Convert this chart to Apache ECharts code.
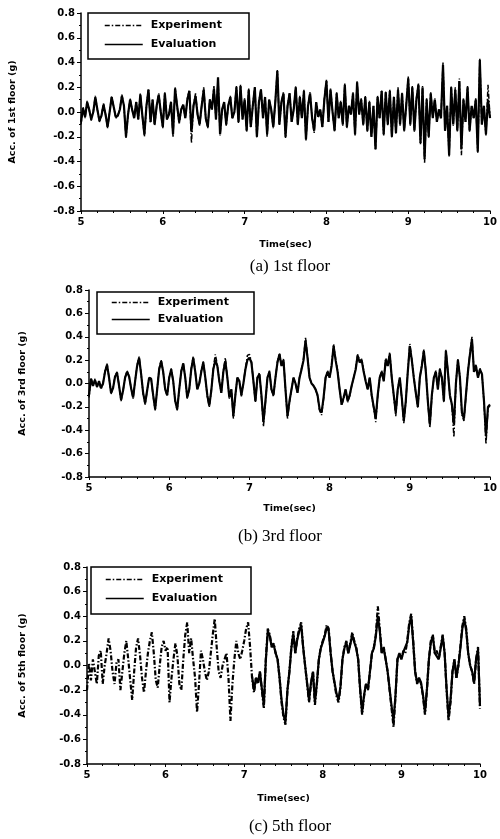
<!DOCTYPE html>
<html>
<head>
<meta charset="utf-8">
<script src="https://cdn.jsdelivr.net/npm/echarts@6/dist/echarts.min.js"></script>
<style>
html,body{margin:0;padding:0;background:#fff;}
#c{width:500px;height:839px;}
</style>
</head>
<body>
<div id="c"></div>
<script>
// ---- Data (sampled every 0.025 s from 5.0 s) ----
const startTime = 5.0;
const step = 0.025;
const xTicks = [5, 6, 7, 8, 9, 10];
const yTicks = [-0.8, -0.6, -0.4, -0.2, 0.0, 0.2, 0.4, 0.6, 0.8];
const seriesNames = ['Experiment', 'Evaluation'];
const yAxisNames = ['Acc. of 1st floor (g)', 'Acc. of 3rd floor (g)', 'Acc. of 5th floor (g)'];
const xAxisName = 'Time(sec)';
const captions = ['(a) 1st floor', '(b) 3rd floor', '(c) 5th floor'];

// 1st floor
const eval1 = [
-0.08,0.03,-0.04,0.08,0.02,-0.06,0.00,0.12,
0.02,-0.07,-0.03,0.06,-0.02,-0.12,0.00,0.12,
0.04,-0.04,-0.03,0.02,0.13,0.05,-0.20,-0.02,
0.10,0.02,-0.05,0.08,-0.06,0.14,-0.03,-0.18,
0.05,0.18,-0.08,0.10,-0.10,0.05,0.14,0.00,
-0.12,0.15,-0.06,-0.02,0.08,-0.18,0.19,0.05,
-0.08,0.02,0.06,-0.05,0.10,0.17,-0.16,0.05,
0.13,-0.02,-0.10,0.05,0.18,-0.05,-0.12,0.10,
0.02,0.19,-0.06,0.28,-0.18,0.02,0.08,-0.10,
0.05,0.12,-0.05,0.00,0.20,-0.08,0.21,-0.06,
0.10,-0.15,0.18,-0.12,0.05,0.20,-0.20,0.08,
0.18,-0.05,0.12,-0.18,0.10,0.02,-0.12,0.08,
0.33,-0.10,0.08,0.15,-0.20,0.05,0.15,-0.08,
0.02,0.20,-0.10,0.12,-0.05,0.17,-0.22,0.05,
0.15,-0.05,-0.15,0.08,-0.04,0.02,-0.12,0.10,
0.25,-0.08,0.18,0.00,-0.15,0.15,-0.05,0.08,
-0.10,0.22,-0.12,0.05,-0.02,0.15,-0.18,0.24,
-0.02,0.10,-0.10,0.12,-0.15,0.08,-0.20,0.05,
-0.30,0.12,-0.05,0.17,-0.18,0.16,-0.10,0.17,
-0.20,0.12,-0.17,0.18,-0.10,0.15,-0.15,0.05,
0.27,-0.10,0.20,-0.15,0.10,0.22,-0.25,0.20,
-0.38,0.10,-0.20,0.15,-0.05,0.10,-0.08,0.02,
-0.05,0.38,-0.15,0.05,-0.35,0.20,-0.10,0.18,
-0.15,0.25,-0.30,0.10,-0.08,0.20,-0.15,0.05,
-0.05,0.10,-0.32,0.42,-0.10,0.05,-0.18,0.10,
-0.05];
const exp1 = [
-0.10,0.04,-0.05,0.09,0.02,-0.07,0.00,0.13,
0.02,-0.08,-0.03,0.07,-0.02,-0.13,0.00,0.13,
0.04,-0.05,-0.03,0.02,0.14,0.05,-0.21,-0.02,
0.11,0.02,-0.05,0.09,-0.06,0.15,-0.03,-0.20,
0.05,0.19,-0.09,0.10,-0.11,0.05,0.15,0.00,
-0.13,0.16,-0.06,-0.02,0.09,-0.20,0.20,0.05,
-0.10,0.02,0.06,-0.05,0.11,0.18,-0.25,0.05,
0.15,-0.02,-0.11,0.05,0.20,-0.05,-0.13,0.11,
0.02,0.21,-0.06,0.27,-0.19,0.02,0.08,-0.11,
0.05,0.13,-0.05,0.00,0.21,-0.09,0.22,-0.06,
0.11,-0.16,0.19,-0.13,0.05,0.21,-0.21,0.08,
0.19,-0.05,0.13,-0.20,0.10,0.02,-0.13,0.08,
0.34,-0.11,0.08,0.16,-0.21,0.05,0.16,-0.08,
0.02,0.21,-0.11,0.13,-0.05,0.18,-0.23,0.05,
0.16,-0.05,-0.17,0.08,-0.04,0.02,-0.13,0.11,
0.26,-0.08,0.19,0.00,-0.16,0.16,-0.05,0.09,
-0.11,0.23,-0.13,0.05,-0.02,0.16,-0.19,0.25,
-0.02,0.11,-0.11,0.13,-0.16,0.09,-0.21,0.05,
-0.31,0.13,-0.05,0.18,-0.19,0.17,-0.11,0.18,
-0.21,0.13,-0.18,0.20,-0.11,0.16,-0.16,0.05,
0.29,-0.11,0.21,-0.16,0.11,0.23,-0.26,0.21,
-0.41,0.11,-0.21,0.16,-0.05,0.11,-0.08,0.02,
-0.05,0.40,-0.16,0.05,-0.36,0.21,-0.11,0.20,
-0.16,0.27,-0.35,0.11,-0.08,0.21,-0.16,0.05,
-0.05,0.11,-0.33,0.43,-0.11,0.05,-0.19,0.22,
-0.04];

// 3rd floor
const eval3 = [
-0.10,0.04,-0.02,0.03,-0.03,0.02,-0.04,0.00,
0.10,0.16,0.05,-0.08,-0.04,0.06,0.09,-0.02,
-0.14,-0.06,0.05,0.10,0.06,-0.04,-0.12,0.02,
0.15,0.22,0.08,-0.08,-0.17,-0.06,0.05,0.04,
-0.10,-0.22,-0.05,0.12,0.19,0.10,-0.05,-0.10,
0.05,0.12,0.02,-0.15,-0.22,-0.05,0.10,0.17,
0.05,-0.12,-0.05,0.12,0.22,0.10,-0.05,0.00,
0.10,0.18,0.05,-0.10,-0.19,-0.06,0.12,0.20,
0.15,0.02,-0.08,0.10,0.19,0.05,-0.12,-0.05,
-0.28,-0.10,0.05,0.02,-0.10,0.00,0.12,0.20,
0.22,0.18,0.02,-0.15,0.05,0.08,-0.10,-0.33,
-0.15,0.05,0.10,-0.05,-0.10,0.05,0.18,0.25,
0.15,0.20,-0.05,-0.28,-0.15,-0.05,0.05,0.00,
-0.08,0.05,0.12,0.20,0.37,0.22,0.05,0.00,
-0.02,-0.05,-0.10,-0.22,-0.25,-0.12,0.05,0.10,
0.05,0.15,0.32,0.20,0.10,-0.05,-0.18,-0.12,
-0.05,-0.15,-0.10,-0.02,0.05,0.12,0.24,0.18,
0.20,0.10,0.02,-0.05,0.05,-0.10,-0.20,-0.30,
-0.10,0.05,0.10,0.02,0.20,0.15,0.25,0.05,
-0.10,-0.25,-0.05,0.05,-0.12,-0.32,-0.15,0.10,
0.32,0.20,0.05,-0.08,-0.20,0.05,0.15,0.28,
0.10,-0.15,-0.35,-0.10,0.05,0.10,-0.05,0.12,
0.05,-0.15,0.28,0.10,-0.10,-0.18,-0.35,0.00,
0.20,0.05,-0.25,-0.30,-0.10,0.10,0.25,0.38,
0.10,0.15,0.05,0.12,0.08,-0.15,-0.45,-0.20,
-0.18];
const exp3 = [
-0.12,0.05,-0.02,0.04,-0.03,0.02,-0.05,0.00,
0.11,0.17,0.05,-0.09,-0.04,0.07,0.10,-0.02,
-0.15,-0.06,0.05,0.11,0.06,-0.04,-0.13,0.02,
0.16,0.23,0.08,-0.09,-0.18,-0.06,0.05,0.04,
-0.11,-0.23,-0.05,0.13,0.20,0.10,-0.05,-0.11,
0.05,0.13,0.02,-0.16,-0.23,-0.05,0.11,0.18,
0.05,-0.13,-0.05,0.13,0.23,0.10,-0.05,0.00,
0.11,0.19,0.05,-0.11,-0.20,-0.06,0.13,0.25,
0.16,0.02,-0.08,0.11,0.22,0.05,-0.13,-0.05,
-0.30,-0.10,0.05,0.02,-0.11,0.00,0.13,0.24,
0.25,0.19,0.02,-0.16,0.05,0.09,-0.11,-0.37,
-0.16,0.05,0.11,-0.05,-0.11,0.05,0.19,0.26,
0.16,0.21,-0.05,-0.30,-0.16,-0.05,0.05,0.00,
-0.08,0.05,0.13,0.21,0.39,0.23,0.05,0.00,
-0.02,-0.05,-0.11,-0.23,-0.27,-0.13,0.05,0.11,
0.05,0.16,0.34,0.21,0.11,-0.05,-0.19,-0.13,
-0.05,-0.16,-0.11,-0.02,0.05,0.13,0.25,0.19,
0.21,0.11,0.02,-0.05,0.05,-0.11,-0.21,-0.33,
-0.11,0.05,0.11,0.02,0.22,0.16,0.27,0.05,
-0.11,-0.28,-0.05,0.05,-0.13,-0.34,-0.16,0.11,
0.34,0.21,0.05,-0.08,-0.21,0.05,0.16,0.29,
0.11,-0.16,-0.38,-0.11,0.05,0.11,-0.05,0.13,
0.05,-0.16,0.29,0.11,-0.11,-0.19,-0.46,0.00,
0.21,0.05,-0.27,-0.32,-0.11,0.11,0.26,0.40,
0.11,0.16,0.05,0.13,0.08,-0.16,-0.52,-0.21,
-0.19];

// 5th floor (evaluation trace starts at 7.1 s)
const eval5Start = 7.1;
const eval5 = [
-0.09,-0.20,-0.10,-0.14,-0.05,-0.19,-0.32,0.04,0.28,0.24,
0.15,0.17,0.10,0.05,-0.10,-0.28,-0.40,-0.46,-0.20,-0.05,
0.14,0.26,0.10,0.21,0.28,0.33,0.15,0.00,-0.14,-0.28,
-0.14,-0.05,-0.30,-0.14,0.05,0.14,0.19,0.24,0.31,0.28,
0.10,-0.05,-0.14,-0.23,-0.28,-0.17,0.05,0.14,0.19,0.10,
0.17,0.25,0.19,0.14,0.05,-0.19,-0.38,-0.24,-0.15,-0.19,
-0.05,0.10,0.14,0.24,0.40,0.28,0.10,0.14,0.05,-0.05,
-0.19,-0.33,-0.45,-0.24,0.05,0.10,0.05,0.11,0.10,0.19,
0.33,0.40,0.19,-0.05,-0.14,-0.10,-0.14,-0.24,-0.38,-0.19,
0.05,0.19,0.24,0.10,0.11,0.05,0.14,0.24,0.10,-0.19,
-0.42,-0.28,-0.05,0.05,-0.10,0.00,0.14,0.30,0.38,0.28,
0.10,0.00,-0.05,-0.14,0.05,0.13,-0.33];
const exp5 = [
-0.20,0.02,-0.12,0.05,-0.05,-0.15,0.08,0.12,
-0.15,0.00,0.10,0.22,0.12,-0.05,-0.15,0.02,
0.05,-0.20,-0.05,0.10,0.20,0.05,-0.12,-0.28,
-0.05,0.15,0.22,0.08,-0.10,-0.22,-0.05,0.10,
0.20,0.27,0.10,-0.12,-0.18,0.00,0.15,0.20,
0.12,0.15,-0.30,-0.10,0.05,0.18,0.08,-0.15,
-0.20,0.05,0.25,0.35,0.10,0.22,0.05,-0.10,
-0.38,-0.15,0.12,0.05,-0.05,-0.12,-0.05,0.10,
0.25,0.38,0.15,-0.05,-0.10,0.00,0.05,0.10,
-0.10,-0.45,-0.15,0.05,0.20,0.10,0.05,0.12,
0.20,0.30,0.35,0.15,
-0.10,-0.22,-0.10,-0.15,-0.05,-0.20,-0.35,0.05,0.30,0.25,
0.15,0.18,0.10,0.05,-0.10,-0.30,-0.42,-0.48,-0.20,-0.05,
0.15,0.28,0.10,0.22,0.30,0.35,0.15,0.00,-0.15,-0.30,
-0.15,-0.05,-0.32,-0.15,0.05,0.15,0.20,0.25,0.33,0.30,
0.10,-0.05,-0.15,-0.25,-0.30,-0.18,0.05,0.15,0.20,0.10,
0.18,0.27,0.20,0.15,0.05,-0.20,-0.40,-0.25,-0.15,-0.20,
-0.05,0.10,0.15,0.25,0.48,0.30,0.10,0.15,0.05,-0.05,
-0.20,-0.35,-0.50,-0.25,0.05,0.10,0.05,0.12,0.10,0.20,
0.35,0.42,0.20,-0.05,-0.15,-0.10,-0.15,-0.25,-0.40,-0.20,
0.05,0.20,0.25,0.10,0.12,0.05,0.15,0.25,0.10,-0.20,
-0.45,-0.30,-0.05,0.05,-0.10,0.00,0.15,0.32,0.40,0.30,
0.10,0.00,-0.05,-0.15,0.05,0.15,-0.35];

// ---- Build chart ----
function pairs(t0, arr) {
  return arr.map((v, i) => [Math.round((t0 + i * step) * 1000) / 1000, v]);
}
const panels = [
  {exp: pairs(startTime, exp1), ev: pairs(startTime, eval1)},
  {exp: pairs(startTime, exp3), ev: pairs(startTime, eval3)},
  {exp: pairs(startTime, exp5), ev: pairs(eval5Start, eval5)}
];
const grids = [
  {left: 81, top: 13, width: 410, height: 198},
  {left: 89, top: 290, width: 401, height: 187},
  {left: 87, top: 567, width: 393, height: 197}
];
const yNameGap = [63, 61, 59];
const xNameGap = [29, 27, 30];
const expWidth = [1.5, 1.5, 2.2];
const legendPos = [
  {box: [88, 13, 161, 46], left: 104, top: 20, gap: 8},
  {box: [97, 292, 157, 42], left: 111, top: 297, gap: 6},
  {box: [91, 567, 160, 47], left: 105, top: 574, gap: 8}
];
const captionPos = [[290, 267], [280, 537], [290, 827]];
const FONT = 'DejaVu Sans';

const option = {
  animation: false,
  backgroundColor: '#fff',
  grid: grids.map(g => Object.assign({containLabel: false}, g)),
  xAxis: grids.map((g, i) => ({
    type: 'value', gridIndex: i, min: 5, max: 10, interval: 1,
    name: xAxisName, nameLocation: 'middle', nameGap: xNameGap[i],
    nameTextStyle: {fontFamily: FONT, fontWeight: 'bold', fontSize: 9.5, color: '#000'},
    axisLine: {show: true, onZero: false, lineStyle: {color: '#000', width: 1.5}},
    axisTick: {show: true, length: 3, lineStyle: {color: '#000', width: 1}},
    minorTick: {show: true, splitNumber: 5, length: 2, lineStyle: {color: '#000'}},
    axisLabel: {fontFamily: FONT, fontWeight: 'bold', fontSize: 10, color: '#000', margin: 6,
      formatter: v => xTicks.includes(v) ? String(v) : ''},
    splitLine: {show: false}
  })),
  yAxis: grids.map((g, i) => ({
    type: 'value', gridIndex: i, min: -0.8, max: 0.8, interval: 0.2,
    name: yAxisNames[i], nameLocation: 'middle', nameGap: yNameGap[i], nameRotate: 90,
    nameTextStyle: {fontFamily: FONT, fontWeight: 'bold', fontSize: 9.5, color: '#000'},
    axisLine: {show: true, onZero: false, lineStyle: {color: '#000', width: 1.5}},
    axisTick: {show: true, length: 4, lineStyle: {color: '#000', width: 1}},
    minorTick: {show: true, splitNumber: 2, length: 2, lineStyle: {color: '#000'}},
    axisLabel: {fontFamily: FONT, fontWeight: 'bold', fontSize: 10, color: '#000', margin: 6,
      formatter: v => {
        const k = yTicks.find(t => Math.abs(t - v) < 1e-6);
        if (k === undefined) return '';
        return k < 0 ? '-' + Math.abs(k).toFixed(1) : k.toFixed(1);
      }},
    splitLine: {show: false}
  })),
  legend: legendPos.map(p => ({
    data: seriesNames, orient: 'vertical', left: p.left, top: p.top,
    itemWidth: 38, itemHeight: 10, itemGap: p.gap, padding: 0,
    itemStyle: {color: 'rgba(0,0,0,0)', borderWidth: 0, opacity: 0},
    lineStyle: {width: 1.5},
    textStyle: {fontFamily: FONT, fontWeight: 'bold', fontSize: 11, color: '#000', padding: [0, 0, 0, 3]},
    selectedMode: false
  })),
  graphic: [
    ...legendPos.map(p => ({
      type: 'rect', shape: {x: p.box[0], y: p.box[1], width: p.box[2], height: p.box[3]},
      style: {fill: 'none', stroke: '#000', lineWidth: 1.5}, z: 100
    })),
    ...captions.map((c, i) => ({
      type: 'text', x: captionPos[i][0], y: captionPos[i][1],
      style: {text: c, fill: '#000', font: '17px "Liberation Serif"', align: 'center', verticalAlign: 'middle'}
    }))
  ],
  series: []
};
panels.forEach((p, i) => {
  option.series.push({
    name: seriesNames[0], type: 'line', xAxisIndex: i, yAxisIndex: i,
    data: p.exp, symbol: 'none', showSymbol: false, z: 2,
    itemStyle: {color: '#000'},
    lineStyle: {color: '#000', width: expWidth[i], type: [5, 2, 1.5, 2]}
  });
  option.series.push({
    name: seriesNames[1], type: 'line', xAxisIndex: i, yAxisIndex: i,
    data: p.ev, symbol: 'none', showSymbol: false, z: 3,
    itemStyle: {color: '#000'},
    lineStyle: {color: '#000', width: 2.2, type: 'solid'}
  });
});
const chart = echarts.init(document.getElementById('c'), null, {renderer: 'canvas'});
chart.setOption(option);
</script>
</body>
</html>
